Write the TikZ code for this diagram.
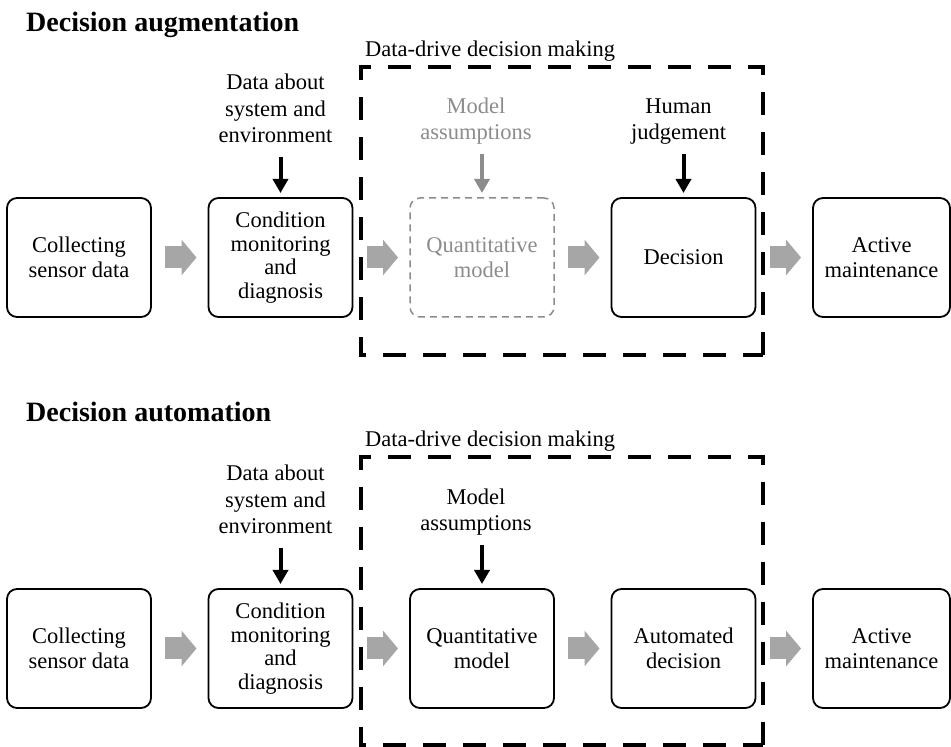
\documentclass[tikz,border=0pt]{standalone}
\usepackage{fontspec}
\setmainfont{Liberation Serif}
\usetikzlibrary{arrows.meta,positioning}
\definecolor{fadeG}{RGB}{140,140,140}
\definecolor{blockG}{RGB}{166,166,166}

\begin{document}
\begin{tikzpicture}[x=1pt,y=1pt,
  box/.style={draw,rounded corners=10pt,line width=1.8pt,minimum width=144pt,minimum height=119pt,align=center,inner sep=0pt,outer sep=0pt,font=\fontsize{22.5}{24.5}\selectfont},
  fadebox/.style={box,draw=fadeG,text=fadeG,line width=1.5pt,dash pattern=on 7pt off 5pt},
  inlabel/.style={align=center,inner sep=0pt,text depth=0pt,font=\fontsize{22.5}{26.5}\selectfont},
  flow/.style={blockG,line width=22pt,-{Triangle[length=15pt,width=35pt]},shorten <=14pt,shorten >=12pt},
  inarrow/.style={line width=4pt,-{Triangle[length=14pt,width=15pt]},shorten <=14pt,shorten >=5pt},
  ddmframe/.style={line width=4.5pt,dash pattern=on 23pt off 17pt},
  rowtitle/.style={anchor=base west,inner sep=0pt,font=\fontsize{28}{32}\selectfont\bfseries},
  ddmlabel/.style={anchor=base west,inner sep=0pt,font=\fontsize{22.5}{26.5}\selectfont}]
\useasboundingbox (0,0) rectangle (951,747);
% decision augmentation
\node[rowtitle] (title1) at (26,715) {Decision augmentation};
\draw[ddmframe] (763,392)--(763,680)--(361,680)--(361,392)--cycle;
\node[ddmlabel] (ddm1) at (365,690) {Data-drive decision making};
\node[box] (col1) at (79,489.5) {Collecting\\sensor data};
\node[box,font=\fontsize{22.5}{23.5}\selectfont,right=57.5pt of col1] (cond1) {Condition\\monitoring\\and\\diagnosis};
\node[fadebox,right=57.5pt of cond1] (quant1) {Quantitative\\model};
\node[box,right=57.5pt of quant1] (dec1) {Decision};
\node[box,minimum width=137pt,right=57.5pt of dec1] (act1) {Active\\maintenance};
\node[inlabel,above=55pt of cond1,xshift=-5pt] (data1) {Data about\\system and\\environment};
\node[inlabel,text=fadeG,above=58pt of quant1,xshift=-6pt] (model1) {Model\\assumptions};
\node[inlabel,above=58pt of dec1,xshift=-5pt] (human1) {Human\\judgement};
\draw[flow] (col1)--(cond1);
\draw[flow] (cond1)--(quant1);
\draw[flow] (quant1)--(dec1);
\draw[flow] (dec1)--(act1);
\draw[inarrow] (data1.south -| cond1.north)--(cond1.north);
\draw[inarrow,fadeG] (model1.south -| quant1.north)--(quant1.north);
\draw[inarrow] (human1.south -| dec1.north)--(dec1.north);
% decision automation
\node[rowtitle] (title2) at (26,325) {Decision automation};
\draw[ddmframe] (763,2)--(763,290)--(361,290)--(361,2)--cycle;
\node[ddmlabel] (ddm2) at (365,300) {Data-drive decision making};
\node[box] (col2) at (79,98.5) {Collecting\\sensor data};
\node[box,font=\fontsize{22.5}{23.5}\selectfont,right=57.5pt of col2] (cond2) {Condition\\monitoring\\and\\diagnosis};
\node[box,right=57.5pt of cond2] (quant2) {Quantitative\\model};
\node[box,right=57.5pt of quant2] (dec2) {Automated\\decision};
\node[box,minimum width=137pt,right=57.5pt of dec2] (act2) {Active\\maintenance};
\node[inlabel,above=55pt of cond2,xshift=-5pt] (data2) {Data about\\system and\\environment};
\node[inlabel,above=58pt of quant2,xshift=-6pt] (model2) {Model\\assumptions};
\draw[flow] (col2)--(cond2);
\draw[flow] (cond2)--(quant2);
\draw[flow] (quant2)--(dec2);
\draw[flow] (dec2)--(act2);
\draw[inarrow] (data2.south -| cond2.north)--(cond2.north);
\draw[inarrow] (model2.south -| quant2.north)--(quant2.north);
\end{tikzpicture}
\end{document}
